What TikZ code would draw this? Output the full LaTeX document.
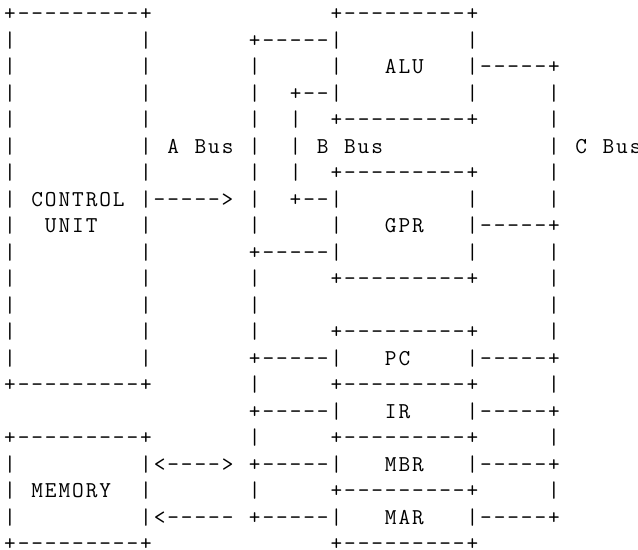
\documentclass[tikz,border=0pt]{standalone}
\usepackage{fontspec}
\newlength\chw
\setlength\chw{6.8pt}
\newcommand\asciitt{\fontsize{11.33}{13.25}\selectfont\ttfamily}
% one fixed cell per character, '.' is a blank cell
\newcommand\asciicell[1]{\if.#1\hspace*{\chw}\else\makebox[\chw][c]{#1}\fi}
\def\asciichars#1{\ifx\relax#1\else\asciicell{#1}\expandafter\asciichars\fi}
\newcommand\asciiline[1]{\asciichars#1\relax}

\begin{document}
\begin{tikzpicture}[x=6.8pt, y=-13.25pt, ascii/.style={anchor=base west,inner sep=0pt,outer sep=0pt,font=\asciitt}]
\useasboundingbox (-1.6pt,10.4pt) rectangle (317.4pt,-264.6pt);
% control unit / alu
\node[ascii] (r0) at (0,0) {\asciiline{+---------+.............+---------+}};
\node[ascii] (r1) at (0,1) {\asciiline{|.........|.......+-----|.........|}};
\node[ascii] (alu) at (0,2) {\asciiline{|.........|.......|.....|...ALU...|-----+}};
\node[ascii] (r3) at (0,3) {\asciiline{|.........|.......|..+--|.........|.....|}};
\node[ascii] (r4) at (0,4) {\asciiline{|.........|.......|..|..+---------+.....|}};
% bus labels
\node[ascii] (bus) at (0,5) {\asciiline{|.........|.A.Bus.|..|.B.Bus............|.C.Bus}};
\node[ascii] (r6) at (0,6) {\asciiline{|.........|.......|..|..+---------+.....|}};
\node[ascii] (cu) at (0,7) {\asciiline{|.CONTROL.|----->.|..+--|.........|.....|}};
\node[ascii] (gpr) at (0,8) {\asciiline{|..UNIT...|.......|.....|...GPR...|-----+}};
\node[ascii] (r9) at (0,9) {\asciiline{|.........|.......+-----|.........|.....|}};
\node[ascii] (r10) at (0,10) {\asciiline{|.........|.......|.....+---------+.....|}};
\node[ascii] (r11) at (0,11) {\asciiline{|.........|.......|.....................|}};
\node[ascii] (r12) at (0,12) {\asciiline{|.........|.......|.....+---------+.....|}};
% registers
\node[ascii] (pc) at (0,13) {\asciiline{|.........|.......+-----|...PC....|-----+}};
\node[ascii] (r14) at (0,14) {\asciiline{+---------+.......|.....+---------+.....|}};
\node[ascii] (ir) at (0,15) {\asciiline{..................+-----|...IR....|-----+}};
\node[ascii] (r16) at (0,16) {\asciiline{+---------+.......|.....+---------+.....|}};
\node[ascii] (mbr) at (0,17) {\asciiline{|.........|<---->.+-----|...MBR...|-----+}};
\node[ascii] (mem) at (0,18) {\asciiline{|.MEMORY..|.......|.....+---------+.....|}};
\node[ascii] (mar) at (0,19) {\asciiline{|.........|<-----.+-----|...MAR...|-----+}};
\node[ascii] (r20) at (0,20) {\asciiline{+---------+.............+---------+}};
\end{tikzpicture}
\end{document}
